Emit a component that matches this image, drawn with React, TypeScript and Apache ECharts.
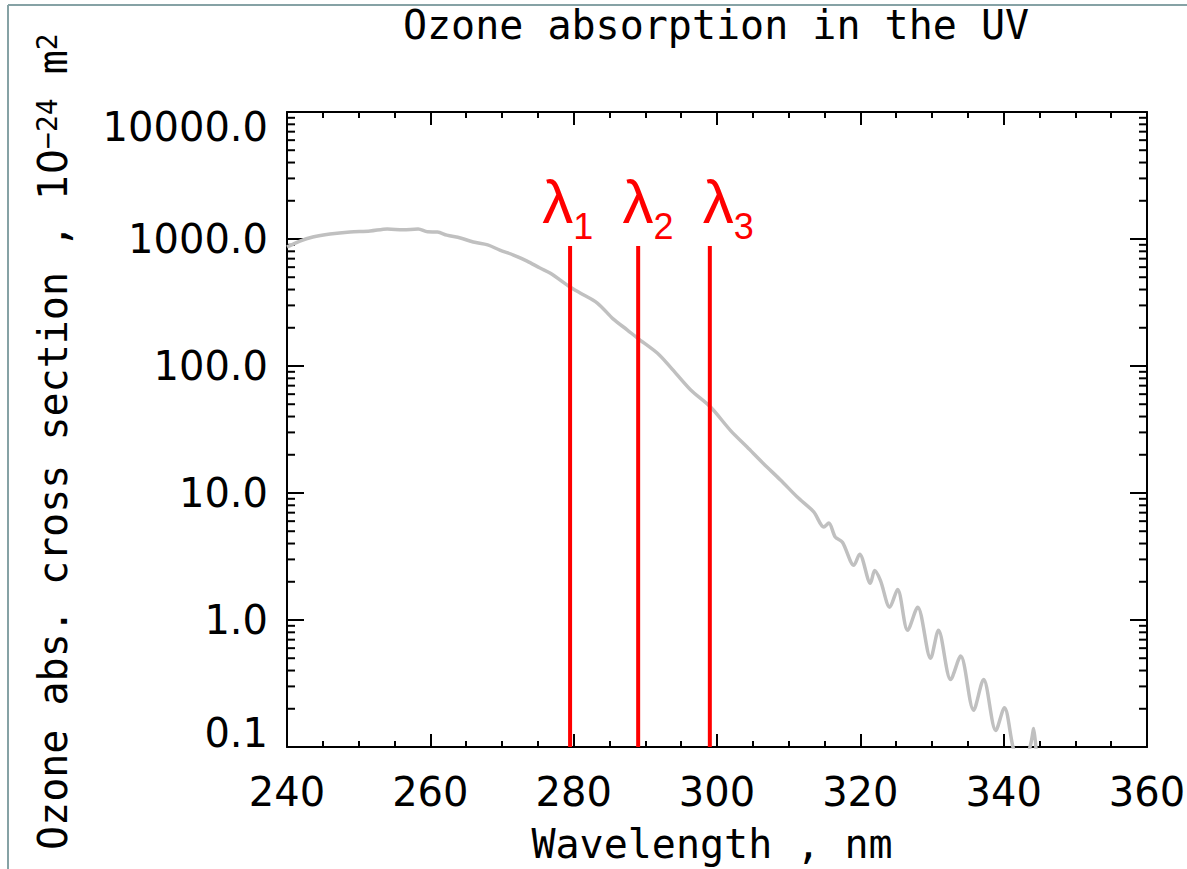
import React, { useEffect, useRef } from "react";
import * as echarts from "echarts";

// ---- data ----
const wavelength = [240, 241.8, 243.6, 246, 248.8, 251.6, 254, 256.2, 258.3, 259.6, 261, 262.3, 264.2, 266, 268, 269.7, 271.6, 273.5, 275.3, 276.7, 279.5, 280.9, 283.3, 285.5, 287.5, 288.9, 291.7, 293.5, 296.3, 299.1, 301.9, 304.2, 306.5, 308.9, 311.2, 313.5, 314.9, 315.6, 316.5, 317.5, 319.1, 319.9, 321.4, 322.0, 322.8, 324.1, 325.2, 326.6, 328.0, 329.8, 330.9, 332.6, 334.0, 335.8, 337.2, 338.9, 340.1, 341.3, 342.5, 343.8, 344.2, 344.6];
const crossSection = [865, 964, 1037, 1094, 1135, 1155, 1200, 1180, 1200, 1140, 1135, 1072, 1019, 946, 898, 818, 748, 670, 591, 540, 419, 376, 313, 235, 192, 166, 126, 98, 65, 47.5, 31, 23, 17, 12.6, 9.3, 7.1, 5.4, 5.8, 4.5, 4.1, 2.7, 3.3, 1.95, 2.45, 2.05, 1.26, 1.74, 0.83, 1.26, 0.5, 0.83, 0.34, 0.52, 0.195, 0.34, 0.135, 0.204, 0.1, 0.06, 0.107, 0.14, 0.08];

const lambdaWavelengths = [279.5, 289, 299];
const lambdaSubscripts = ["1", "2", "3"];
const lambdaLineTop = 880; // cross-section value where the red markers end
const lambdaLabelAnchor = [275.6, 286.8, 298.0]; // wavelength of each label's left edge

const xMin = 240;
const xMax = 360;
const xInterval = 20;
const yMin = 0.1;
const yMax = 10000;
const decades = [0.1, 1, 10, 100, 1000];
const minorMultipliers = [2, 3, 4, 5, 6, 7, 8, 9];

const title = "Ozone absorption in the UV";
const xTitle = "Wavelength , nm";

const MONO = '"DejaVu Sans Mono"';
const SANS = '"DejaVu Sans"';

export default function App() {
  const ref = useRef<HTMLDivElement>(null);

  useEffect(() => {
    if (!ref.current) return;
    const chart = echarts.init(ref.current, null, { renderer: "svg" });

    const curve = wavelength.map((w, i) => [w, crossSection[i]]);
    const minorTicks: number[][] = [];
    decades.forEach((d) => minorMultipliers.forEach((m) => minorTicks.push([xMin, m * d])));
    const lambdaData = lambdaWavelengths.map((w, i) => [w, lambdaLineTop, lambdaLabelAnchor[i], i]);

    const axisLineStyle = { color: "#000", width: 2 };

    chart.setOption({
      animation: false,
      backgroundColor: "#fff",
      grid: {
        left: 287,
        right: 40,
        top: 112,
        bottom: 122,
        containLabel: false,
        outerBoundsMode: "none",
      },
      xAxis: [
        {
          type: "value",
          min: xMin,
          max: xMax,
          interval: xInterval,
          position: "bottom",
          axisLine: { show: true, lineStyle: axisLineStyle },
          axisTick: { show: true, inside: true, length: 13, lineStyle: axisLineStyle },
          minorTick: { show: true, splitNumber: 4, length: 6, lineStyle: axisLineStyle },
          splitLine: { show: false },
          axisLabel: {
            show: true,
            margin: 25,
            color: "#000",
            fontFamily: SANS,
            fontSize: 40,
          },
        },
        {
          type: "value",
          min: xMin,
          max: xMax,
          interval: xInterval,
          position: "top",
          axisLine: { show: true, lineStyle: axisLineStyle },
          axisTick: { show: true, inside: true, length: 13, lineStyle: axisLineStyle },
          minorTick: { show: true, splitNumber: 4, length: 6, lineStyle: axisLineStyle },
          splitLine: { show: false },
          axisLabel: { show: false },
        },
      ],
      yAxis: [
        {
          type: "log",
          logBase: 10,
          min: yMin,
          max: yMax,
          position: "left",
          axisLine: { show: true, lineStyle: axisLineStyle },
          axisTick: { show: true, inside: true, length: 17, lineStyle: axisLineStyle },
          splitLine: { show: false },
          axisLabel: {
            show: true,
            margin: 19,
            color: "#000",
            fontFamily: SANS,
            fontSize: 40,
            formatter: (v: number) => {
              const s = Number(v).toFixed(1);
              if (Math.abs(v - yMax) < 1e-6) return "{hi|" + s + "}";
              if (Math.abs(v - yMin) < 1e-9) return "{lo|" + s + "}";
              return "{n|" + s + "}";
            },
            rich: {
              n: { fontFamily: SANS, fontSize: 40, color: "#000" },
              hi: { fontFamily: SANS, fontSize: 40, color: "#000", padding: [30, 0, 0, 0] },
              lo: { fontFamily: SANS, fontSize: 40, color: "#000", padding: [0, 0, 28, 0] },
            },
          },
        },
        {
          type: "log",
          logBase: 10,
          min: yMin,
          max: yMax,
          position: "right",
          axisLine: { show: true, lineStyle: axisLineStyle },
          axisTick: { show: true, inside: true, length: 17, lineStyle: axisLineStyle },
          splitLine: { show: false },
          axisLabel: { show: false },
        },
      ],
      series: [
        {
          name: "minor log ticks",
          type: "custom",
          xAxisIndex: 0,
          yAxisIndex: 0,
          silent: true,
          clip: false,
          data: minorTicks,
          renderItem: (params: any, api: any) => {
            const v = api.value(1);
            const pl = api.coord([xMin, v]);
            const pr = api.coord([xMax, v]);
            return {
              type: "group",
              children: [
                { type: "line", shape: { x1: pl[0], y1: pl[1], x2: pl[0] + 8, y2: pl[1] }, style: { stroke: "#000", lineWidth: 2 } },
                { type: "line", shape: { x1: pr[0], y1: pr[1], x2: pr[0] - 8, y2: pr[1] }, style: { stroke: "#000", lineWidth: 2 } },
              ],
            };
          },
        },
        {
          name: "O3 cross section",
          type: "line",
          xAxisIndex: 0,
          yAxisIndex: 0,
          data: curve,
          showSymbol: false,
          symbol: "none",
          smooth: 0.3,
          clip: true,
          lineStyle: { color: "#c0c0c0", width: 3.5 },
          z: 3,
        },
        {
          name: "lambda markers",
          type: "custom",
          xAxisIndex: 0,
          yAxisIndex: 0,
          silent: true,
          clip: false,
          z: 5,
          data: lambdaData,
          renderItem: (params: any, api: any) => {
            const w = api.value(0);
            const top = api.value(1);
            const anchor = api.value(2);
            const idx = api.value(3);
            const p0 = api.coord([w, yMin]);
            const p1 = api.coord([w, top]);
            const pa = api.coord([anchor, top]);
            return {
              type: "group",
              children: [
                {
                  type: "line",
                  shape: { x1: p0[0], y1: p0[1], x2: p1[0], y2: p1[1] },
                  style: { stroke: "#ff0000", lineWidth: 4 },
                },
                {
                  type: "text",
                  style: {
                    text: "λ",
                    x: pa[0],
                    y: p1[1] - 45,
                    fill: "#ff0000",
                    font: '62px "Liberation Sans"',
                    align: "left",
                    verticalAlign: "middle",
                    textAlign: "left",
                    textVerticalAlign: "middle",
                  },
                },
                {
                  type: "text",
                  style: {
                    text: lambdaSubscripts[idx],
                    x: pa[0] + 31,
                    y: p1[1] - 20,
                    fill: "#ff0000",
                    font: '36px "Liberation Sans"',
                    align: "left",
                    verticalAlign: "middle",
                    textAlign: "left",
                    textVerticalAlign: "middle",
                  },
                },
              ],
            };
          },
        },
      ],
      graphic: [
        { type: "line", shape: { x1: 8, y1: 5, x2: 1187, y2: 5 }, style: { stroke: "#86a2a5", lineWidth: 2 }, silent: true },
        { type: "line", shape: { x1: 8, y1: 5, x2: 8, y2: 869 }, style: { stroke: "#86a2a5", lineWidth: 2 }, silent: true },
        {
          type: "text",
          x: 716,
          y: 25,
          style: {
            text: title,
            font: "40px " + MONO,
            fill: "#000",
            align: "center",
            verticalAlign: "middle",
            textAlign: "center",
            textVerticalAlign: "middle",
          },
        },
        {
          type: "text",
          x: 712,
          y: 844,
          style: {
            text: xTitle,
            font: "40px " + MONO,
            fill: "#000",
            align: "center",
            verticalAlign: "middle",
            textAlign: "center",
            textVerticalAlign: "middle",
          },
        },
        {
          type: "text",
          x: 53,
          y: 850,
          rotation: Math.PI / 2,
          style: {
            text: "{a|Ozone abs. cross section , }{n|10}{s|−24}{a| m}{s|2}",
            fill: "#000",
            align: "left",
            verticalAlign: "middle",
            textAlign: "left",
            textVerticalAlign: "middle",
            rich: {
              a: { fontFamily: "DejaVu Sans Mono", fontSize: 40, lineHeight: 40, verticalAlign: "bottom", fill: "#000" },
              n: { fontFamily: "DejaVu Sans", fontSize: 40, lineHeight: 40, verticalAlign: "bottom", fill: "#000" },
              s: { fontFamily: "DejaVu Sans Mono", fontSize: 28, lineHeight: 10, verticalAlign: "top", fill: "#000" },
            },
          },
        },
      ],
    });

    return () => chart.dispose();
  }, []);

  return (
    <div
      ref={ref}
      style={{ position: "absolute", left: 0, top: 0, width: 1187, height: 869 }}
    />
  );
}
